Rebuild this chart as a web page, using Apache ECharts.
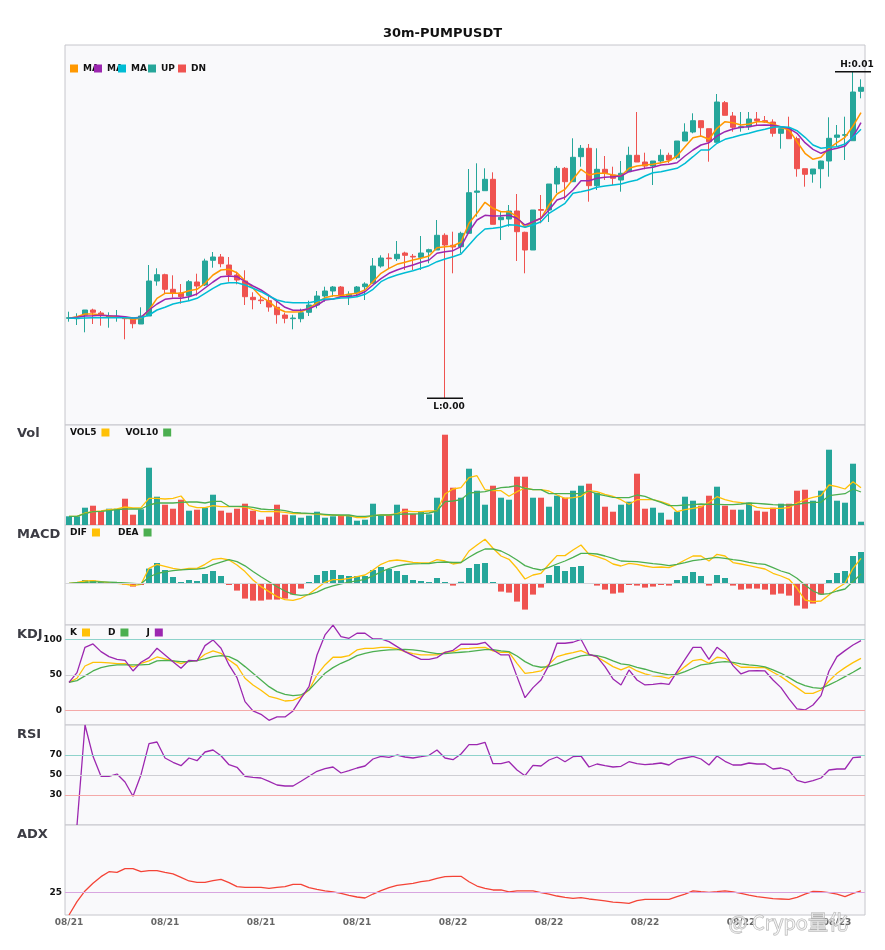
<!DOCTYPE html>
<html>
<head>
<meta charset="utf-8">
<title>30m-PUMPUSDT</title>
<script src="https://cdn.jsdelivr.net/npm/echarts@6.0.0/dist/echarts.min.js"></script>
<style>
html, body { margin: 0; padding: 0; background: #fff; }
#main { width: 885px; height: 950px; }
</style>
</head>
<body>
<div id="main"></div>
<script>
// 30m candles, 08/21 00:00 onward
var cats = [];
for (var i = 0; i < 100; i++) {
  var d = new Date(Date.UTC(2025, 7, 21) + i * 1800000);
  var p2 = function (n) { return String(n).padStart(2, '0'); };
  cats.push(p2(d.getUTCMonth() + 1) + '/' + p2(d.getUTCDate()) + ' ' + p2(d.getUTCHours()) + ':' + p2(d.getUTCMinutes()));
}

var openP = [0.004827,0.004823,0.00486,0.00491,0.00488,0.004837,0.00484,0.004837,0.004827,0.00477,
  0.00485,0.0052,0.005263,0.005117,0.00508,0.005053,0.00519,0.00516,0.005407,0.00544,
  0.00536,0.00526,0.0052,0.005037,0.00501,0.005003,0.004937,0.00486,0.004823,0.004823,
  0.004887,0.00496,0.00505,0.0051,0.00514,0.005043,0.005083,0.005143,0.005177,0.00535,
  0.00543,0.005423,0.00548,0.005447,0.005437,0.00549,0.00551,0.005657,0.005557,0.005543,
  0.005677,0.006087,0.006103,0.006217,0.005813,0.00582,0.0059,0.005687,0.00551,0.005915,
  0.00591,0.00617,0.006327,0.006193,0.006443,0.006527,0.006153,0.006317,0.00626,0.00621,
  0.006293,0.006457,0.00639,0.00635,0.0064,0.006457,0.006433,0.0066,0.00669,0.006803,
  0.006723,0.006587,0.006983,0.00685,0.006733,0.006743,0.00682,0.006803,0.00679,0.006677,
  0.006723,0.006623,0.006323,0.00627,0.006323,0.0064,0.006637,0.006657,0.006603,0.007097];
var closeP = [0.004833,0.00483,0.00491,0.004887,0.004857,0.00485,0.004847,0.004823,0.004773,0.00485,
  0.0052,0.005263,0.005117,0.005077,0.005043,0.005193,0.00515,0.0054,0.00544,0.005373,
  0.00526,0.00521,0.005043,0.005013,0.005003,0.00494,0.004863,0.004827,0.00483,0.004883,
  0.00496,0.00505,0.0051,0.00514,0.005053,0.005067,0.00514,0.00517,0.00535,0.00543,
  0.005423,0.005467,0.005457,0.00544,0.00548,0.005513,0.005657,0.00556,0.00554,0.005677,
  0.006083,0.0061,0.006217,0.005767,0.005837,0.0059,0.005693,0.00551,0.00591,0.005907,
  0.00617,0.006327,0.006193,0.006437,0.006527,0.006153,0.006317,0.006277,0.006227,0.006277,
  0.006457,0.00639,0.00635,0.0064,0.006457,0.00641,0.0066,0.00669,0.006803,0.006733,
  0.006593,0.00699,0.006857,0.006737,0.006743,0.00682,0.006803,0.00679,0.006677,0.006723,
  0.006623,0.006323,0.006267,0.00632,0.0064,0.006627,0.00666,0.006663,0.00709,0.007137];
var lowP = [0.004793,0.00476,0.004687,0.00477,0.004753,0.004733,0.004793,0.004617,0.004727,0.00477,
  0.00485,0.005153,0.005077,0.005033,0.004973,0.005,0.005053,0.00515,0.005333,0.005337,
  0.005193,0.005167,0.00496,0.004917,0.00497,0.004893,0.004773,0.004777,0.004717,0.004787,
  0.00485,0.004927,0.004993,0.005043,0.005043,0.00496,0.005043,0.00501,0.005177,0.005333,
  0.005327,0.0054,0.00531,0.00531,0.00531,0.005377,0.00551,0.004027,0.005277,0.005477,
  0.005677,0.005843,0.006103,0.005767,0.00561,0.005743,0.0054,0.005277,0.00551,0.005777,
  0.00579,0.00608,0.00601,0.006193,0.006343,0.005993,0.00611,0.00621,0.00616,0.006093,
  0.006293,0.00639,0.006317,0.00616,0.006377,0.006377,0.006417,0.0066,0.006677,0.00665,
  0.006393,0.006587,0.006857,0.006693,0.006693,0.00671,0.00675,0.006783,0.006643,0.006523,
  0.006623,0.006243,0.006143,0.006183,0.006127,0.006243,0.006543,0.00641,0.006603,0.007027];
var highP = [0.004893,0.004877,0.00491,0.004923,0.0049,0.004887,0.00491,0.00485,0.004837,0.004937,
  0.00536,0.005327,0.005273,0.005257,0.00517,0.00521,0.005273,0.005423,0.00549,0.00547,
  0.00544,0.005293,0.005307,0.005087,0.005053,0.005057,0.004993,0.004883,0.004863,0.004923,
  0.005003,0.0051,0.005143,0.00515,0.00515,0.005097,0.00515,0.005187,0.00543,0.005457,
  0.005477,0.0056,0.005493,0.00547,0.00565,0.005523,0.00581,0.005677,0.005693,0.005693,
  0.00632,0.006377,0.006327,0.006287,0.005893,0.00596,0.00607,0.005693,0.00591,0.00606,
  0.00617,0.00635,0.00634,0.006627,0.00656,0.00657,0.006527,0.00645,0.006343,0.0064,
  0.006543,0.00689,0.006483,0.0064,0.006517,0.006483,0.0066,0.006777,0.006877,0.006803,
  0.006723,0.00707,0.007,0.00689,0.00689,0.00689,0.00689,0.00685,0.006817,0.006723,
  0.006843,0.006643,0.006323,0.00632,0.006403,0.006837,0.00676,0.006843,0.007293,0.007217];

var ma5 = [0.004827,0.004843,0.00487,0.00487,0.00486,0.00485,0.004843,0.004833,0.004817,0.004827,
  0.00491,0.005027,0.005077,0.005077,0.005077,0.005103,0.005117,0.005177,0.00526,0.00531,
  0.005317,0.005283,0.005203,0.005127,0.005043,0.004993,0.004927,0.004893,0.00489,0.004893,
  0.004927,0.004983,0.005033,0.005053,0.005053,0.005067,0.005077,0.00511,0.005193,0.005277,
  0.005327,0.005367,0.005387,0.00541,0.005427,0.00545,0.005533,0.005543,0.00555,0.00559,
  0.005777,0.005877,0.005987,0.005927,0.005893,0.005893,0.005843,0.005737,0.005793,0.005827,
  0.00596,0.00607,0.006117,0.006217,0.006317,0.00626,0.006277,0.006277,0.00626,0.00625,
  0.006327,0.00635,0.00636,0.006367,0.006383,0.0064,0.00645,0.006543,0.006633,0.00665,
  0.006617,0.006727,0.006793,0.006783,0.00676,0.00677,0.006793,0.006793,0.00677,0.006737,
  0.00671,0.006593,0.006477,0.006417,0.006437,0.006527,0.006583,0.006637,0.00675,0.006883];
var ma10 = [0.004827,0.004837,0.00485,0.004853,0.004857,0.004853,0.00485,0.004843,0.00483,0.004837,
  0.00491,0.00497,0.005017,0.005027,0.005027,0.005043,0.00507,0.00513,0.00519,0.005243,
  0.00525,0.005243,0.005197,0.00515,0.00511,0.005057,0.004997,0.004937,0.004907,0.004907,
  0.004923,0.004957,0.00501,0.00502,0.005043,0.005043,0.005057,0.005093,0.00516,0.005223,
  0.005277,0.00531,0.005337,0.00536,0.005387,0.00541,0.005477,0.005493,0.005503,0.005543,
  0.005693,0.00581,0.005857,0.00585,0.005853,0.005857,0.005827,0.00576,0.005793,0.005827,
  0.00591,0.00601,0.006037,0.00611,0.006203,0.006203,0.006227,0.006237,0.006243,0.00625,
  0.006293,0.00631,0.006327,0.006337,0.00636,0.006367,0.006383,0.00645,0.00651,0.00656,
  0.006583,0.00665,0.006693,0.00672,0.006737,0.006743,0.006757,0.00676,0.006757,0.006743,
  0.006727,0.006677,0.006583,0.006517,0.006477,0.00651,0.006527,0.00655,0.006643,0.006783];
var ma20 = [0.004827,0.004827,0.00483,0.004833,0.004833,0.004833,0.004833,0.004833,0.00483,0.004833,
  0.00486,0.00491,0.004937,0.00497,0.004987,0.005003,0.005027,0.005077,0.005127,0.00517,
  0.005183,0.005183,0.00516,0.005127,0.005093,0.00505,0.00501,0.00499,0.004983,0.004983,
  0.004983,0.005,0.00502,0.00502,0.00503,0.005033,0.005043,0.005067,0.005117,0.005193,
  0.005233,0.00526,0.005283,0.005303,0.005327,0.005353,0.005393,0.00542,0.005443,0.00547,
  0.00556,0.00565,0.00572,0.005727,0.005737,0.005763,0.005757,0.005737,0.00576,0.005793,
  0.005877,0.005927,0.005977,0.006077,0.006093,0.00611,0.006137,0.00615,0.00616,0.00617,
  0.006193,0.00621,0.00625,0.006283,0.006293,0.00631,0.006327,0.006377,0.006443,0.00651,
  0.00651,0.006577,0.006617,0.006637,0.00666,0.006677,0.0067,0.006717,0.006737,0.006743,
  0.006737,0.006703,0.006637,0.00656,0.006527,0.006537,0.006543,0.00657,0.006637,0.006717];

var vol = [8.7,8.7,17.3,19.3,14,16.3,16.3,26.3,10.3,15.7,
  57.3,28.3,20.3,16.3,25.3,14.3,15.3,17.3,30.3,14.3,
  12.3,16.3,21.3,14.3,5.3,8.3,20.3,10.3,9.7,7.3,
  9.3,13.3,7.3,8.7,9.3,9.7,4.3,5.3,21.3,9.7,
  9.7,20.3,16.3,11,13.3,10.7,27.3,90.3,37.3,27.3,
  56.3,34.3,20.3,39.3,27.3,25.3,48.3,48.3,27.3,27.3,
  18.3,29.3,27.3,34.3,39.3,41.3,32.3,18.3,13.3,20.3,
  23.3,51.3,16.3,17.3,12.3,5.3,13.3,28.3,24.3,19.3,
  29.3,38.3,19.3,15.3,15.3,22.3,14.3,13.3,17.3,21.3,
  21.3,34.3,35.3,24.3,34.3,75.3,24.3,22.3,61.3,3.3];
var vol5 = [8.7,8.7,12,13.3,14,15.3,16,18,17,17.3,
  26.7,26.7,26,26.7,29,19.3,17.3,17.3,19.3,18.3,
  18.3,18.3,18,15.3,13.3,13.3,13.3,12.7,11.3,11.3,
  11.3,11,10,10,9.3,9.3,7.3,7.3,9.3,10,
  10,11.3,14,13.3,13.3,14,14,31,36,37.3,
  47.3,49.3,35.3,34.3,34.3,28.7,33.3,37,35.3,35.3,
  34,30,26.7,27.3,28.7,34.3,33.3,30.7,28.7,25.3,
  20.7,25.3,25.3,25.3,23.3,20.7,13.3,15.3,16.7,18,
  22.7,28.3,25.3,23.3,22.3,21,17.7,16.7,16.7,16.7,
  17.3,22,25.3,27.7,29.3,40,38.3,36,43.3,37.3];
var vol10 = [8.7,8.7,11.3,13.3,13.7,14.3,15.3,16,16,16,
  20,22,22,22,22.7,23,23,22,23.7,23.7,
  18.7,18.7,18.7,17.7,16,15.3,15.3,14.3,12.7,12,
  11.7,11.3,10.7,10,10,10,8.7,8.7,9.3,10,
  10,10.7,11,11,11.3,12,14,23.3,24,25.3,
  32,32.7,33.3,35.3,37.3,38,39.3,36.7,35.3,35.3,
  31.3,31.3,31.3,31.3,31.3,34,31,29.3,27.7,27.3,
  27.3,30,28.7,25.3,22.7,19.3,19.3,20,20.3,21,
  20.7,20.7,20.3,20.3,21,22,21.7,21,20.3,20,
  20,20.7,22,22.7,22.7,29.3,30.3,31.3,36,33];

var dif = [0,1,2.3,2.7,1.7,0.7,0,-0.7,-2.3,-1,
  15,19,17,15,13.7,15,15,19,24,25,
  23.3,18.3,11.7,3.3,-3.3,-8.3,-13.3,-16.3,-17,-15,
  -10.7,-5,1,3.7,3.7,5,6.7,8.3,13.3,19,
  22.3,23.3,22.3,21,20.3,20.3,23.7,22.3,19.3,20.7,
  32.3,38.3,44,35,27.3,24,15,4.3,8.3,10,
  19,27.7,27.7,33.3,38.3,29,26.7,24,19.3,17.3,
  20,19,17.3,16,16.3,15.7,19,23.3,27.3,27.3,
  22.3,29,27.3,20.7,19.3,17.7,16,14.3,10,7.3,
  4,-5,-16.7,-18.3,-17.7,-11.7,-5,0,15,25];
var dea = [0,0.7,1,1.5,1.5,1.2,0.8,0.5,0,-0.5,
  6.3,9.8,11.5,12.6,13.5,14,14.2,15.3,18.6,21.2,
  23.6,21.6,17.5,11.8,6.5,1.6,-3.4,-7.7,-11,-12,
  -11.4,-8.8,-5.1,-2.5,-0.5,1.2,2.5,4,7.5,11.5,
  14.8,17.2,18.8,19.5,19.6,19.8,21,21.3,20.8,20.8,
  26,30.7,34.3,34.3,32.3,28.3,23.3,17.7,15,13.3,
  16,19.3,22.3,26,30,30,29.3,27.3,25,22.3,
  22,21.7,20.7,19.7,19,17.7,19,20.7,22.7,23.7,
  25,26,25,23.7,22.7,21,19.7,19,15.7,12.3,
  10,5,-1.7,-7.7,-11,-10.3,-7.7,-5.7,1.7,9.3];
var macdHist = [0,0,3.3,2.7,1.3,-0.7,-0.7,-1.3,-3.3,-1.7,
  14.7,20.3,13.3,6.3,1.3,3.3,2.3,9.3,12.3,7.3,
  -1.7,-7.3,-15.3,-17.3,-17.3,-16.3,-16.3,-15.3,-11.3,-5.3,
  1.3,8.3,12.3,13.3,8.3,7.3,7.3,7.3,13.3,16.3,
  14.3,12.3,8.3,3.3,2.3,1.3,5.3,1.3,-2.3,1.5,
  15.3,19.3,20.3,1.3,-8.3,-9.3,-18.3,-26.3,-11.3,-4.3,
  8.3,17.3,12.3,16.3,17.3,-0.7,-2.3,-6.3,-10.3,-9.3,
  -1.7,-2.3,-4.3,-3.3,-1.7,-2.3,3.3,7.3,11.3,7.3,
  -2.3,8.3,5.3,-2.3,-6.3,-5.3,-5.3,-6.3,-11.3,-10.3,
  -12.3,-22.3,-25.3,-20.3,-11.3,3.3,10.3,12.3,27.3,31.3];

var kLine = [39.4,45.1,62.4,67.6,67.6,66.7,65.7,65.7,61,66.2,
  69.5,75.1,72.3,69.5,65.7,69.5,70,78.9,83.6,80.3,
  70.9,62.9,45.1,35.7,28.2,19.7,16.9,13.1,14.1,19.2,
  28.6,49.8,63.9,74.7,74.7,77,85,87.3,87.3,88.7,
  88.7,86.4,82.6,79.8,77.9,77.9,77.9,81.7,82.6,86.4,
  87.3,88.3,88.7,83.6,81.7,81.7,66.2,52.1,53.5,55.4,
  64.8,75.6,78.9,81.2,84,78.9,75.1,68.5,61.5,56.8,
  61.5,55.4,51.2,48.4,47.4,45.1,52.1,61.5,70,71.8,
  66.2,74.7,73.2,66.2,60.6,60.6,60.1,60.1,53.5,47.4,
  39.4,31.9,23.9,23.9,28.6,41.3,52.1,60.1,67.1,73.2];
var dLine = [39.4,41.8,48.4,55.4,60.1,62.4,63.9,63.9,63.9,63.9,
  64.8,69.5,70.4,69.5,68.5,68.5,70,72.3,75.6,77,
  75.6,70.4,61.5,52.1,42.7,33.3,26.3,22.5,20.7,21.6,
  28.6,40.4,52.1,60.1,66.2,70.9,77,80.3,82.6,84,
  85,85.4,85.9,85,83.6,81.7,79.8,79.8,80.8,81.7,
  82.6,84,85.4,85.4,83.6,82.6,76.5,68.5,62.9,60.6,
  61.5,65.3,69.5,73.2,76.5,77.9,77,74.2,69.5,65.3,
  63.9,60.6,57.8,54.5,52.1,49.8,50.7,54.5,59.2,63.9,
  65.3,67.6,68.5,67.6,65.3,63.9,62.9,61,56.8,52.1,
  46,39.4,34.7,31.9,31,35.7,41.3,47.4,53.5,60.1];
var jLine = [39.4,53.1,88.7,93.4,82.6,75.6,71.8,70.4,55.4,67.6,
  74.2,87.3,77.9,68.5,59.2,70.4,69.5,91.1,99.1,87.3,
  63.9,46,12.2,-0.9,-5.6,-14.1,-9.4,-9.4,-0.9,16.9,
  33.3,77.9,106.1,120,103.8,101.4,108.5,108.5,100.5,100.5,
  96.7,89.7,82.6,77,71.8,71.8,74.2,81.7,84.5,93,
  93,93,95.8,85,77.9,77.9,47.4,17.8,31.9,42.7,
  63.9,94.4,94.4,95.8,100,78.9,75.6,61.5,44.1,35.7,
  56.8,42.7,35.7,36.6,38,36.6,54.5,71.8,88.7,88.7,
  71.8,88.7,80.3,62.9,51.2,55.4,55.9,55.4,42.7,31.9,
  16,1.9,0.5,7.5,20.7,55.4,75.6,84,92,98.1];

var rsi = [null,0,100,68.7,48.7,48.7,51,43,28.7,50.3,
  81.3,83,67,62.7,59.3,67,64.3,73,75,69.3,
  60.3,57.7,48.7,47.7,47,43.7,40,39,39,43.7,
  48.7,53.7,56.3,58,52,54.3,57,59,66,68.7,
  67.7,70,68,67,68.3,69.7,75,67,65.3,71,
  80.3,80.3,82.7,61.3,61.3,63.3,55,49.3,59.7,59,
  65,68,63.3,68.3,69,58,61,59.3,58,58.7,
  63.3,61.3,60.3,61,62,60,65.3,67,68.7,66,
  60,69,63.7,60,60,62,61,61,56,57,
  54.3,44.7,42.3,44.3,47,55,56,56,67.3,68];
var adx = [0,14.8,26.7,35.2,42.6,48.1,47.4,51.5,51.5,48.1,
  49.3,49.3,47.4,45.6,41.9,37.8,36.3,36.3,38.1,39.6,
  35.9,31.5,30.7,30.7,30.7,29.6,30.7,31.5,34.1,34.1,
  30.4,28.5,26.7,25.6,24.1,21.9,20,18.9,23.3,27,
  30.4,33,34.1,35.2,37,38.1,40.7,42.6,43,43,
  37,32.2,29.6,27.8,27.8,25.6,26.7,26.7,26.7,24.8,
  23.3,21.1,19.6,18.5,19.3,17.8,16.7,15.6,14.4,13.7,
  13,15.9,17.4,17.4,17.4,17.4,20.4,23.3,26.7,25.9,
  25.2,25.9,26.7,25.6,24.1,22.2,20.4,19.3,18.1,17.8,
  17.4,19.6,23.3,26.3,25.9,24.8,23.3,20.4,24.1,26.7];

var UP = '#26a69a', DN = '#ef5350';
var ORANGE = '#ff9800', PURPLE = '#9c27b0', CYAN = '#00bcd4', YELLOW = '#ffc107', GREEN = '#4caf50';

var candles = cats.map(function (c, i) { return [openP[i], closeP[i], lowP[i], highP[i]]; });
var volBars = vol.map(function (v, i) {
  return { value: v, itemStyle: { color: closeP[i] >= openP[i] ? UP : DN } };
});
var histBars = macdHist.map(function (v) {
  return { value: v, itemStyle: { color: v >= 0 ? UP : DN } };
});

var hi = 0, lo = 0;
for (var k = 0; k < highP.length; k++) {
  if (highP[k] > highP[hi]) hi = k;
  if (lowP[k] < lowP[lo]) lo = k;
}

var myChart = echarts.init(document.getElementById('main'));

var grids = [[45, 380], [425, 100], [525, 100], [625, 100], [725, 100], [825, 90]].map(function (g) {
  return { left: 65, right: 20, top: g[0], height: g[1], show: true,
    backgroundColor: '#f9f9fb', borderColor: '#c6c6cc', borderWidth: 1 };
});
var yRange = [[0.00376, 0.00756], [0, 100], [-41.7, 58.3], [-20.7, 120.1], [0, 100], [0, 100]];

function refLines(vals, colors, showLabel) {
  return {
    silent: true, symbol: 'none', animation: false,
    label: { show: showLabel, position: 'start', formatter: '{c}', color: '#111',
      fontSize: 9, fontWeight: 'bold', distance: 3 },
    data: vals.map(function (v, i) {
      return { yAxis: v, lineStyle: { color: colors[i], type: 'solid', width: 1 } };
    })
  };
}
function lineSeries(name, data, color, xi, width, extra) {
  var s = { name: name, type: 'line', xAxisIndex: xi, yAxisIndex: xi, data: data,
    symbol: 'none', showSymbol: false, silent: true,
    itemStyle: { color: color }, lineStyle: { color: color, width: width } };
  return Object.assign(s, extra || {});
}

var legendText = { fontSize: 9, fontWeight: 'bold', color: '#111' };
var maText = Object.assign({ width: 19, overflow: 'truncate', ellipsis: '' }, legendText);
function legendAt(x, y, names, extra) {
  return Object.assign({ left: x, top: y, padding: 0, data: names, icon: 'rect',
    itemWidth: 8, itemHeight: 8, selectedMode: false, textStyle: legendText }, extra || {});
}

var option = {
  animation: false,
  textStyle: { fontFamily: 'DejaVu Sans' },
  title: [{ text: '30m-PUMPUSDT', left: 'center', top: 27, padding: 0,
    textStyle: { fontSize: 13, fontWeight: 'bold', color: '#111' } }].concat(
    [['Vol', 427], ['MACD', 528], ['KDJ', 628], ['RSI', 728], ['ADX', 828]].map(function (t) {
      return { text: t[0], left: 17, top: t[1], padding: 0,
        textStyle: { fontSize: 13, fontWeight: 'bold', color: '#3c3c44' } };
    })),
  legend: [
    legendAt(70, 64, ['MA5'], { textStyle: maText }),
    legendAt(94, 64, ['MA10'], { textStyle: maText }),
    legendAt(118, 64, ['MA20'], { textStyle: maText }),
    legendAt(148, 64, ['UP']),
    legendAt(178, 64, ['DN']),
    legendAt(70, 428, ['VOL5', 'VOL10'], { align: 'right', itemGap: 16 }),
    legendAt(70, 528, ['DIF', 'DEA'], { align: 'right', itemGap: 18,
      textStyle: Object.assign({ width: 22 }, legendText) }),
    legendAt(70, 628, ['K', 'D', 'J'], { align: 'right', itemGap: 18,
      textStyle: Object.assign({ width: 12 }, legendText) })
  ],
  grid: grids,
  xAxis: grids.map(function (g, i) {
    return { type: 'category', gridIndex: i, data: cats, boundaryGap: true,
      axisLine: { show: false }, axisTick: { show: false }, splitLine: { show: false },
      axisLabel: i === 5 ? { show: true, interval: 11, margin: 3, color: '#666', fontSize: 9,
        fontWeight: 'bold', formatter: function (v) { return v.slice(0, 5); } } : { show: false } };
  }),
  yAxis: yRange.map(function (r, i) {
    return { type: 'value', gridIndex: i, min: r[0], max: r[1],
      axisLabel: { show: false }, axisLine: { show: false }, axisTick: { show: false },
      splitLine: { show: false } };
  }),
  graphic: [{ type: 'text', left: 728, top: 912, z: 100, silent: true,
    style: { text: '@ Crypo量化', font: '20px "Noto Sans CJK SC"', fill: 'rgba(255,255,255,0.5)',
      stroke: '#b3b3b3', lineWidth: 1 } }],
  series: [
    { name: 'KLine', type: 'candlestick', xAxisIndex: 0, yAxisIndex: 0, data: candles, barWidth: 6,
      silent: true,
      itemStyle: { color: UP, color0: DN, borderColor: UP, borderColor0: DN, borderWidth: 1 },
      markLine: refLines([(yRange[0][0] + yRange[0][1]) / 2], ['#dedee2'], false),
      markPoint: {
        symbol: 'rect', symbolSize: [36, 1.5], silent: true, animation: false,
        itemStyle: { color: '#111' },
        label: { color: '#111', fontSize: 9, fontWeight: 'bold', formatter: function (p) { return p.name; } },
        data: [
          { name: 'H:' + highP[hi].toFixed(2), coord: [cats[hi], highP[hi]],
            label: { position: 'top', distance: 2, offset: [4, 0] } },
          { name: 'L:' + lowP[lo].toFixed(2), coord: [cats[lo], lowP[lo]],
            label: { position: 'bottom', distance: 3, offset: [4, 0] } }
        ]
      } },
    lineSeries('MA5', ma5, ORANGE, 0, 1.5),
    lineSeries('MA10', ma10, PURPLE, 0, 1.5),
    lineSeries('MA20', ma20, CYAN, 0, 1.5),
    lineSeries('UP', [], UP, 0, 1),
    lineSeries('DN', [], DN, 0, 1),

    { name: 'Vol', type: 'bar', xAxisIndex: 1, yAxisIndex: 1, data: volBars, barWidth: 6, silent: true },
    lineSeries('VOL5', vol5, YELLOW, 1, 1.3),
    lineSeries('VOL10', vol10, GREEN, 1, 1.3),

    { name: 'MACD', type: 'bar', xAxisIndex: 2, yAxisIndex: 2, data: histBars, barWidth: 6, silent: true,
      markLine: refLines([0], ['#d6d6da'], false) },
    lineSeries('DIF', dif, YELLOW, 2, 1.3),
    lineSeries('DEA', dea, GREEN, 2, 1.3),

    lineSeries('K', kLine, YELLOW, 3, 1.3,
      { markLine: refLines([100, 50, 0], ['#8fd3cb', '#cfcfd4', '#f4a9a8'], true) }),
    lineSeries('D', dLine, GREEN, 3, 1.3),
    lineSeries('J', jLine, PURPLE, 3, 1.3),

    lineSeries('RSI', rsi, PURPLE, 4, 1.3,
      { markLine: refLines([70, 50, 30], ['#8fd3cb', '#cfcfd4', '#f4a9a8'], true) }),

    lineSeries('ADX', adx, '#f44336', 5, 1.3,
      { markLine: refLines([25], ['#d8a6e0'], true) })
  ]
};

myChart.setOption(option);
</script>
</body>
</html>
